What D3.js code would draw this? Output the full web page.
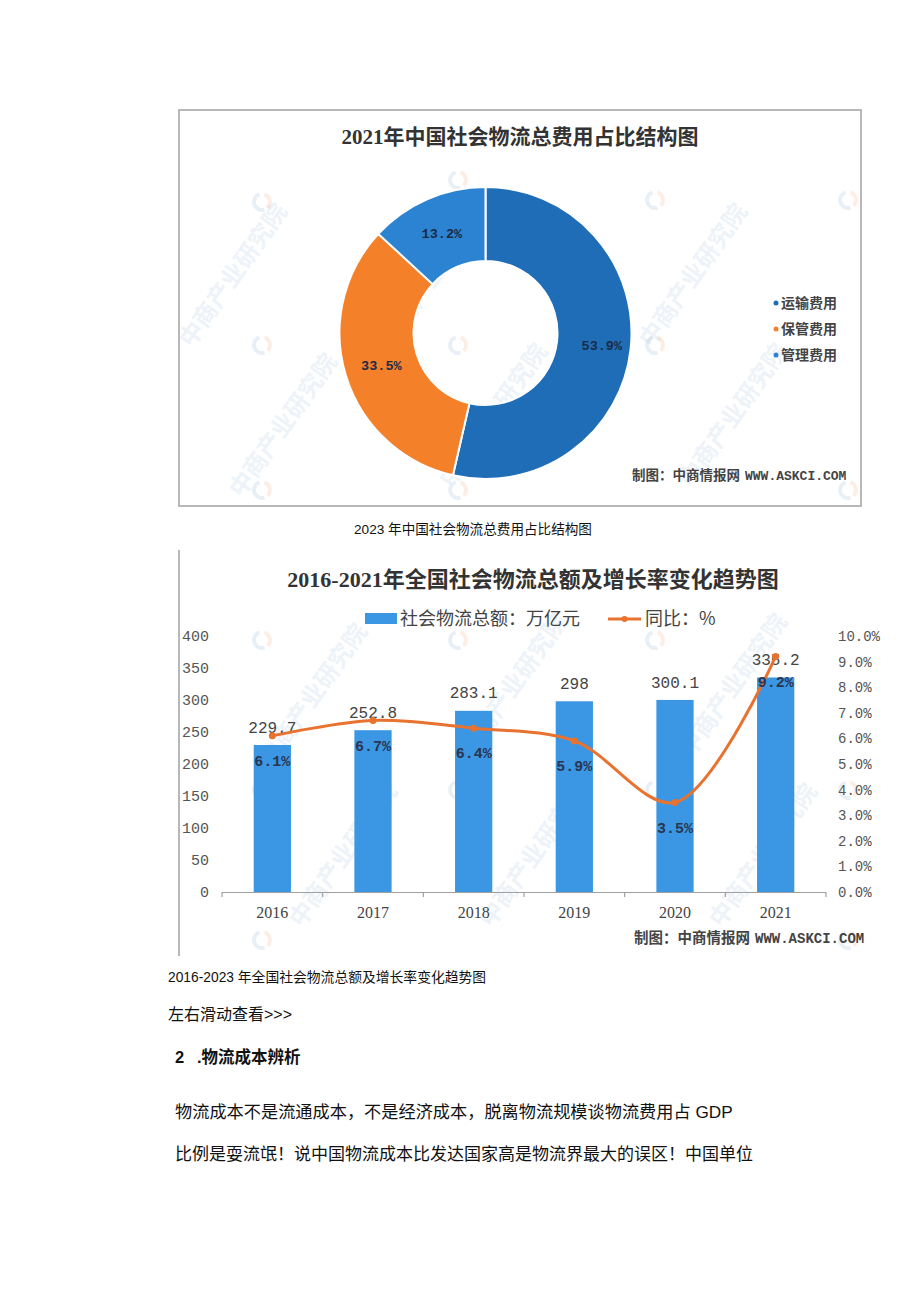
<!DOCTYPE html>
<html>
<head>
<meta charset="utf-8">
<script src="https://cdn.jsdelivr.net/npm/d3@7"></script>
<style>
  html, body { margin: 0; padding: 0; background: #fff; }
  svg { display: block; }
</style>
</head>
<body>
<svg id="page" width="920" height="1301"></svg>
<script>
// ---------- DATA ----------
const pieTitle = "2021年中国社会物流总费用占比结构图";
const pieCategories = ["运输费用", "保管费用", "管理费用"];
const pieValues = [53.9, 33.5, 13.2];
const pieCaption = "2023 年中国社会物流总费用占比结构图";

const barTitle = "2016-2021年全国社会物流总额及增长率变化趋势图";
const years = ["2016", "2017", "2018", "2019", "2020", "2021"];
const totals = [229.7, 252.8, 283.1, 298, 300.1, 335.2];
const growth = [6.1, 6.7, 6.4, 5.9, 3.5, 9.2];
const leftTicks = [0, 50, 100, 150, 200, 250, 300, 350, 400];
const rightTicks = [0, 1, 2, 3, 4, 5, 6, 7, 8, 9, 10];
const legendNames = ["社会物流总额：万亿元", "同比：%"];
const barCaption = "2016-2023 年全国社会物流总额及增长率变化趋势图";
const source = "制图：中商情报网";
const sourceUrl = "WWW.ASKCI.COM";

const bodyLines = [
  "左右滑动查看>>>",
  "物流成本不是流通成本，不是经济成本，脱离物流规模谈物流费用占 GDP",
  "比例是耍流氓！说中国物流成本比发达国家高是物流界最大的误区！中国单位"
];

// ---------- STYLE ----------
const CJK = "'Noto Sans CJK SC', sans-serif";
const TITLEF = "'Liberation Serif', 'Noto Sans CJK SC', serif";
const MONO = "'Liberation Mono', 'Noto Sans CJK SC', monospace";
const BODY = "'Liberation Sans', 'Noto Sans CJK SC', sans-serif";
const pieColors = ["#1f6db7", "#f5802a", "#2c83d2"];
const barColor = "#3b97e4";
const lineColor = "#e8722f";

const svg = d3.select("#page");
svg.append("rect").attr("width", 920).attr("height", 1301).attr("fill", "#fff");

// watermark helper
function watermarks(g, pts, logos) {
  const w = g.append("g").attr("pointer-events", "none");
  pts.forEach(([x, y]) => {
    w.append("text").attr("x", x).attr("y", y)
      .attr("transform", `rotate(-55,${x},${y})`)
      .attr("text-anchor", "middle")
      .style("font-family", CJK).style("font-size", "24px").style("font-weight", "700")
      .attr("fill", "#7ea6cf").attr("opacity", 0.13)
      .text("中商产业研究院");
  });
  logos.forEach(([x, y]) => {
    const arc = d3.arc().innerRadius(6).outerRadius(10);
    w.append("path").attr("transform", `translate(${x},${y})`)
      .attr("d", arc({startAngle: Math.PI * 0.9, endAngle: Math.PI * 1.9}))
      .attr("fill", "#7ea6cf").attr("opacity", 0.18);
    w.append("path").attr("transform", `translate(${x},${y})`)
      .attr("d", arc({startAngle: Math.PI * 0.1, endAngle: Math.PI * 0.75}))
      .attr("fill", "#f0a070").attr("opacity", 0.18);
  });
}

// ================= CHART 1: DONUT =================
const c1 = svg.append("g");
c1.append("rect").attr("x", 179).attr("y", 110).attr("width", 682).attr("height", 396)
  .attr("fill", "#fff").attr("stroke", "#b8b8b8").attr("stroke-width", 2);

watermarks(c1,
  [[240, 280], [290, 430], [440, 280], [500, 420], [700, 280], [740, 420]],
  [[262, 202], [458, 180], [655, 200], [848, 200], [262, 345], [458, 345], [655, 345], [262, 490], [458, 490], [848, 490]]);

c1.append("text").attr("x", 520).attr("y", 144).attr("text-anchor", "middle")
  .style("font-family", TITLEF).style("font-size", "21px").style("font-weight", "700")
  .attr("fill", "#333").text(pieTitle);

const cx = 485.5, cy = 333;
const pie = d3.pie().sort(null).value(d => d)(pieValues);
const arc = d3.arc().innerRadius(72).outerRadius(146);
const pg = c1.append("g").attr("transform", `translate(${cx},${cy})`);
pg.selectAll("path").data(pie).join("path")
  .attr("d", arc).attr("fill", (d, i) => pieColors[i])
  .attr("stroke", "#fff").attr("stroke-width", 2);
pg.selectAll("text.pl").data(pie).join("text").attr("class", "pl")
  .attr("transform", d => { const [x, y] = arc.centroid(d); return `translate(${x + (d.index === 0 ? 8 : 0)},${y})`; })
  .attr("text-anchor", "middle").attr("dy", "0.35em")
  .style("font-family", MONO).style("font-size", "13.5px").style("font-weight", "700")
  .attr("fill", "#1a2b48")
  .text(d => d.data.toFixed(1) + "%");

// legend
const lg1 = c1.append("g");
pieCategories.forEach((name, i) => {
  const y = 303 + i * 26;
  lg1.append("circle").attr("cx", 776).attr("cy", y).attr("r", 2.5).attr("fill", pieColors[i]);
  lg1.append("text").attr("x", 781).attr("y", y).attr("dy", "0.35em")
    .style("font-family", CJK).style("font-size", "14px").style("font-weight", "700")
    .attr("fill", "#444").text(name);
});

function sourceText(g, x, y, s1, s2) {
  const t = g.append("text").attr("x", x).attr("y", y).attr("dy", "0.35em").attr("fill", "#444");
  t.append("tspan").style("font-family", CJK).style("font-size", s1 + "px").style("font-weight", "700").text(source);
  t.append("tspan").attr("dx", 5).style("font-family", MONO).style("font-size", s2 + "px").style("font-weight", "700").text(sourceUrl);
}
sourceText(c1, 632, 474, 13.5, 13);

svg.append("text").attr("x", 473).attr("y", 529).attr("text-anchor", "middle").attr("dy", "0.35em")
  .style("font-family", BODY).style("font-size", "13.6px").attr("fill", "#111").text(pieCaption);

// ================= CHART 2: BAR + LINE =================
const c2 = svg.append("g");
c2.append("line").attr("x1", 179).attr("x2", 179).attr("y1", 550).attr("y2", 956)
  .attr("stroke", "#b8b8b8").attr("stroke-width", 2);

watermarks(c2,
  [[320, 700], [350, 860], [520, 690], [540, 860], [740, 690], [770, 860]],
  [[262, 640], [458, 640], [655, 640], [262, 790], [458, 790], [655, 790], [848, 790], [262, 940], [848, 940]]);

c2.append("text").attr("x", 533).attr("y", 587).attr("text-anchor", "middle")
  .style("font-family", TITLEF).style("font-size", "22px").style("font-weight", "700")
  .attr("fill", "#333").text(barTitle);

// legend
c2.append("rect").attr("x", 365).attr("y", 613).attr("width", 32).attr("height", 11).attr("fill", barColor);
c2.append("text").attr("x", 400).attr("y", 619).attr("dy", "0.35em")
  .style("font-family", CJK).style("font-size", "18px").attr("fill", "#444").text(legendNames[0]);
c2.append("line").attr("x1", 608).attr("x2", 641).attr("y1", 619).attr("y2", 619)
  .attr("stroke", lineColor).attr("stroke-width", 3);
c2.append("circle").attr("cx", 624.5).attr("cy", 619).attr("r", 3).attr("fill", lineColor);
c2.append("text").attr("x", 645).attr("y", 619).attr("dy", "0.35em")
  .style("font-family", CJK).style("font-size", "18px").attr("fill", "#444").text(legendNames[1]);

const x = d3.scaleBand().domain(years).range([222, 826]).paddingInner(0.63).paddingOuter(0.315);
const yL = d3.scaleLinear().domain([0, 400]).range([892, 636]);
const yR = d3.scaleLinear().domain([0, 10]).range([892, 636]);

// left axis labels
const axL = c2.append("g").attr("transform", "translate(209,0)")
  .call(d3.axisLeft(yL).tickValues(leftTicks).tickSize(0).tickPadding(0).tickFormat(d3.format("d")));
axL.select(".domain").remove();
axL.selectAll("text").style("font-family", MONO).style("font-size", "15px").attr("fill", "#555");

// right axis labels
const axR = c2.append("g").attr("transform", "translate(838,0)")
  .call(d3.axisRight(yR).tickValues(rightTicks).tickSize(0).tickPadding(0).tickFormat(d => d.toFixed(1) + "%"));
axR.select(".domain").remove();
axR.selectAll("text").style("font-family", MONO).style("font-size", "14px").attr("fill", "#555");

// bars
c2.selectAll("rect.bar").data(totals).join("rect").attr("class", "bar")
  .attr("x", (d, i) => x(years[i])).attr("width", x.bandwidth())
  .attr("y", d => yL(d)).attr("height", d => yL(0) - yL(d)).attr("fill", barColor);

// x axis
const step = x.step();
const xg = c2.append("g");
xg.append("line").attr("x1", 222).attr("x2", 826).attr("y1", 892.5).attr("y2", 892.5)
  .attr("stroke", "#a0a0a0").attr("stroke-width", 1.2);
d3.range(years.length + 1).forEach(k => {
  const xx = 222 + k * step;
  xg.append("line").attr("x1", xx).attr("x2", xx).attr("y1", 892).attr("y2", 897)
    .attr("stroke", "#a0a0a0").attr("stroke-width", 1.2);
});
xg.selectAll("text").data(years).join("text")
  .attr("x", d => x(d) + x.bandwidth() / 2).attr("y", 912).attr("dy", "0.35em")
  .attr("text-anchor", "middle")
  .style("font-family", "'Liberation Serif', serif").style("font-size", "16px").attr("fill", "#444")
  .text(d => d);

// bar value labels
c2.selectAll("text.bv").data(totals).join("text").attr("class", "bv")
  .attr("x", (d, i) => x(years[i]) + x.bandwidth() / 2).attr("y", d => yL(d) - 18).attr("dy", "0.35em")
  .attr("text-anchor", "middle")
  .style("font-family", MONO).style("font-size", "16px").attr("fill", "#444")
  .text(d => String(d));

// line
const cxs = i => x(years[i]) + x.bandwidth() / 2;
const line = d3.line().x((d, i) => cxs(i)).y(d => yR(d)).curve(d3.curveCatmullRom.alpha(0.5));
c2.append("path").datum(growth).attr("d", line).attr("fill", "none")
  .attr("stroke", lineColor).attr("stroke-width", 3).attr("stroke-linecap", "round");
c2.selectAll("circle.pt").data(growth).join("circle").attr("class", "pt")
  .attr("cx", (d, i) => cxs(i)).attr("cy", d => yR(d)).attr("r", 3.5).attr("fill", lineColor);

// growth labels
c2.selectAll("text.gl").data(growth).join("text").attr("class", "gl")
  .attr("x", (d, i) => cxs(i)).attr("y", d => yR(d) + 25).attr("dy", "0.35em")
  .attr("text-anchor", "middle")
  .style("font-family", MONO).style("font-size", "15px").style("font-weight", "700")
  .attr("fill", "#2a3550")
  .text(d => d.toFixed(1) + "%");

sourceText(c2, 634, 937, 14.5, 14);

// caption & body
svg.append("text").attr("x", 168).attr("y", 977).attr("dy", "0.35em")
  .style("font-family", BODY).style("font-size", "13.8px").attr("fill", "#111").text(barCaption);

svg.append("text").attr("x", 168).attr("y", 1014).attr("dy", "0.35em")
  .style("font-family", BODY).style("font-size", "16px").attr("fill", "#111").text(bodyLines[0]);

const h = svg.append("text").attr("x", 175).attr("y", 1057).attr("dy", "0.35em")
  .style("font-family", BODY).style("font-size", "16.5px").style("font-weight", "700").attr("fill", "#111");
h.append("tspan").text("2");
h.append("tspan").attr("x", 197).text(".物流成本辨析");

svg.append("text").attr("x", 175).attr("y", 1112).attr("dy", "0.35em")
  .style("font-family", BODY).style("font-size", "17.2px").attr("fill", "#111").text(bodyLines[1]);
svg.append("text").attr("x", 175).attr("y", 1154).attr("dy", "0.35em")
  .style("font-family", BODY).style("font-size", "17px").attr("fill", "#111").text(bodyLines[2]);
</script>
</body>
</html>
